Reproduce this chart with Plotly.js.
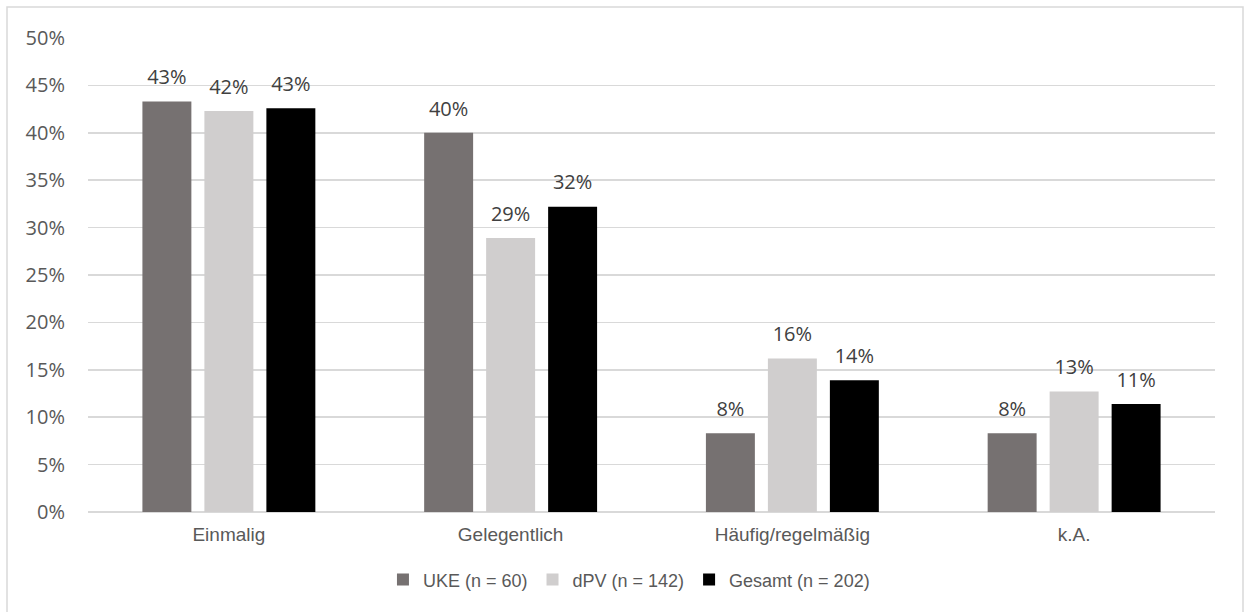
<!DOCTYPE html>
<html>
<head>
<meta charset="utf-8">
<script src="https://cdn.plot.ly/plotly-3.0.1.min.js"></script>
<style>html,body{margin:0;padding:0;background:#fff;}#chart{width:1244px;height:612px;}</style>
</head>
<body>
<div id="chart"></div>
<script>
const categories = ["Einmalig", "Gelegentlich", "Häufig/regelmäßig", "k.A."];
const seriesNames = ["UKE (n = 60)", "dPV (n = 142)", "Gesamt (n = 202)"];
const ukeValues = [43.3, 40.0, 8.3, 8.3];
const dpvValues = [42.3, 28.9, 16.2, 12.7];
const gesamtValues = [42.6, 32.2, 13.9, 11.4];
const colors = ["#767171", "#D0CECE", "#000000"];
const yTicks = [0, 5, 10, 15, 20, 25, 30, 35, 40, 45, 50];

const numFont = "Open Sans, Noto Sans, sans-serif";
const txtFont = "Liberation Sans, Arial, sans-serif";

function bar(name, vals, color, g) {
  return {
    type: "bar", name: name, x: categories, y: vals,
    marker: {color: color}, offsetgroup: g,
    hoverinfo: "none"
  };
}
function lbl(vals, g) {
  return {
    type: "scatter", mode: "markers+text", x: categories, y: vals, offsetgroup: g,
    marker: {size: 18, opacity: 0}, showlegend: false,
    text: vals.map(v => Math.round(v) + "%"),
    textposition: "top center", cliponaxis: false,
    textfont: {family: numFont, size: 20, color: "#404040"},
    hoverinfo: "none"
  };
}

const data = [
  bar(seriesNames[0], ukeValues, colors[0], "a"),
  bar(seriesNames[1], dpvValues, colors[1], "b"),
  bar(seriesNames[2], gesamtValues, colors[2], "c"),
  lbl(ukeValues, "a"),
  lbl(dpvValues, "b"),
  lbl(gesamtValues, "c")
];

const layout = {
  width: 1244, height: 612,
  margin: {l: 88, r: 29, t: 38, b: 100},
  paper_bgcolor: "#fff", plot_bgcolor: "#fff",
  barmode: "group", bargap: 0.34, bargroupgap: 0.21,
  scattermode: "group", scattergap: 0.34,
  showlegend: true,
  legend: {orientation: "h", x: 0.48, xanchor: "center", y: -0.143, yanchor: "middle",
    font: {family: txtFont, size: 18, color: "#595959"}, itemclick: false, traceorder: "normal"},
  xaxis: {
    type: "category", showgrid: false, zeroline: false, showline: false,
    ticks: "", tickfont: {family: txtFont, size: 19, color: "#595959"}, ticklabelstandoff: 9
  },
  yaxis: {
    range: [0, 50], tickvals: yTicks, ticktext: yTicks.map(v => v + "%"),
    showgrid: true, gridcolor: "#D9D9D9", gridwidth: 1.5, zeroline: true, zerolinecolor: "#D9D9D9", zerolinewidth: 1.5,
    showline: false, ticks: "", ticklabelstandoff: 22,
    tickfont: {family: numFont, size: 20, color: "#595959"}
  },
  shapes: [{
    type: "rect", xref: "paper", yref: "paper",
    x0: (7 - 88) / 1127, x1: (1243 - 88) / 1127,
    y0: (512 - 640) / 474, y1: (512 - 7) / 474,
    line: {color: "#D9D9D9", width: 1.5}, fillcolor: "rgba(0,0,0,0)", layer: "below"
  }]
};

Plotly.newPlot("chart", data, layout, {displayModeBar: false, staticPlot: true});
</script>
</body>
</html>
